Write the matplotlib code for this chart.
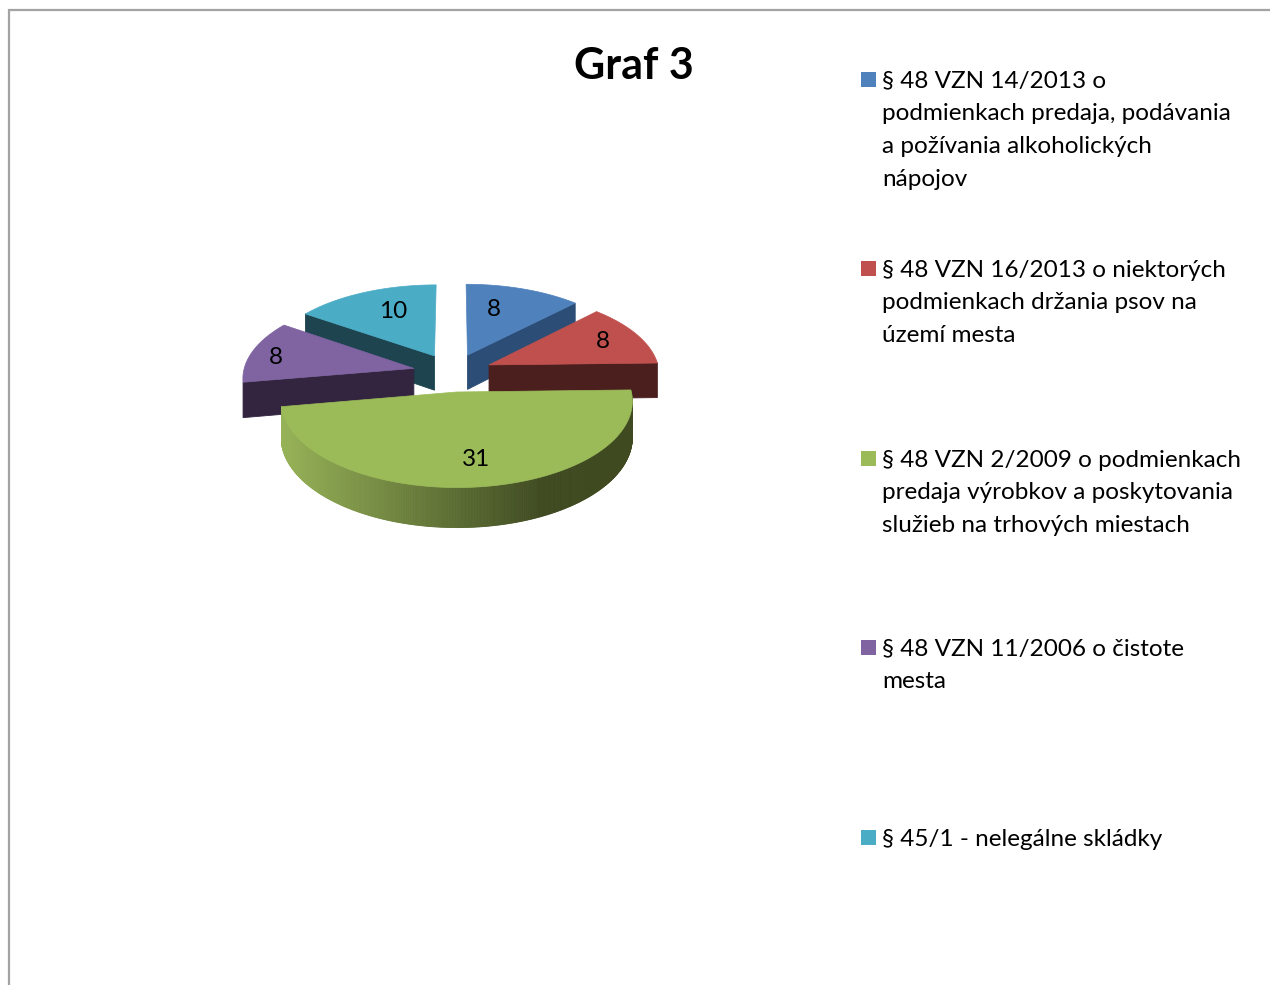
# -*- coding: utf-8 -*-
import numpy as np
import matplotlib
matplotlib.use("Agg")
import matplotlib.pyplot as plt

plt.rcParams['font.family'] = ['Lato', 'DejaVu Sans']

values = [8, 8, 31, 8, 10]
labels = [
    "§ 48 VZN 14/2013 o\npodmienkach predaja, podávania\na požívania alkoholických\nnápojov",
    "§ 48 VZN 16/2013 o niektorých\npodmienkach držania psov na\núzemí mesta",
    "§ 48 VZN 2/2009 o podmienkach\npredaja výrobkov a poskytovania\nslužieb na trhových miestach",
    "§ 48 VZN 11/2006 o čistote\nmesta",
    "§ 45/1 - nelegálne skládky",
]
title = "Graf 3"

top_colors = ['#4f81bd', '#c0504d', '#9bbb59', '#8064a2', '#4bacc6']
cut_colors = ['#2c4d75', '#4a1f1e', '#4f6228', '#33253f', '#1d444f']

# projection of the pie plane to pixels
CX, CY = 452.7, 372.5
TILT = 0.478
PERSP = 0.0006
RADIUS = 170.5
EXPLODE = 40.0
DEPTH = 35.0


def project(x, y, down=0.0):
    x = np.asarray(x, dtype=float)
    y = np.asarray(y, dtype=float)
    s = 1.0 / (1.0 + PERSP * y)
    return CX + s * x, CY - TILT * s * y + down * s


def quad(ax, x0, y0, x1, y1, color):
    px0, py0 = project(x0, y0)
    px1, py1 = project(x1, y1)
    qx0, qy0 = project(x0, y0, DEPTH)
    qx1, qy1 = project(x1, y1, DEPTH)
    ax.fill([px0, px1, qx1, qx0], [py0, py1, qy1, qy0], color=color, lw=0.6)


def slice_geometry(i):
    total = float(sum(values))
    start = 90.0 - 360.0 * sum(values[:i]) / total
    end = start - 360.0 * values[i] / total
    mid = np.radians((start + end) / 2.0)
    ox, oy = EXPLODE * np.cos(mid), EXPLODE * np.sin(mid)
    ang = np.radians(np.linspace(start, end, 400))
    return ox, oy, ang


def rim(ox, oy, ang):
    return ox + RADIUS * np.cos(ang), oy + RADIUS * np.sin(ang)


fig = plt.figure(figsize=(12.7, 9.85), dpi=100)
ax = fig.add_axes([0, 0, 1, 1])
ax.set_xlim(0, 1270)
ax.set_ylim(985, 0)
ax.axis('off')

# chart border, only top and left are in the crop
ax.plot([8.5, 8.5, 1270], [985, 10, 10], color='#a3a3a3', lw=1.6, solid_joinstyle='miter')

# back to front
for i in [4, 0, 3, 1, 2]:
    ox, oy, ang = slice_geometry(i)
    rx, ry = rim(ox, oy, ang)

    if i == 2:
        # curved outer wall with the light running left to right
        light = np.array(matplotlib.colors.to_rgb('#97b358'))
        dark = np.array(matplotlib.colors.to_rgb('#3f4a21'))
        sx, _ = project(rx, ry)
        for j in range(len(ang) - 1):
            f = np.clip((sx[j] - sx.min()) / (sx.max() - sx.min()) * 1.35, 0, 1)
            quad(ax, rx[j], ry[j], rx[j + 1], ry[j + 1], light + (dark - light) * f)
    elif i == 0 or i == 1:
        # right hand cut face
        quad(ax, ox, oy, rx[-1], ry[-1], cut_colors[i])
    else:
        # purple and cyan show the face on their starting side
        quad(ax, ox, oy, rx[0], ry[0], cut_colors[i])

    px, py = project(np.r_[ox, rx], np.r_[oy, ry])
    ax.fill(px, py, color=top_colors[i], lw=0.5)

# data labels
label_pos = [(494, 310), (603, 342), (476.5, 460), (276, 358), (393, 312)]
for v, (lx, ly) in zip(values, label_pos):
    ax.text(lx, ly, str(v), fontsize=17.5, color='black', ha='center', va='center')

ax.text(634, 66, title, fontsize=31, fontweight='bold', color='black', ha='center', va='center')

# legend
legend_y = [80, 269, 459, 648, 838]
line_h = 32.6
for lab, col, y in zip(labels, top_colors, legend_y):
    ax.add_patch(plt.Rectangle((861, y - 8), 15, 15, facecolor=col, edgecolor='none'))
    for n, line in enumerate(lab.split('\n')):
        ax.text(882, y + 1.3 + n * line_h, line, fontsize=17.5, color='black', ha='left', va='center')

fig.savefig('out.png', dpi=100)
